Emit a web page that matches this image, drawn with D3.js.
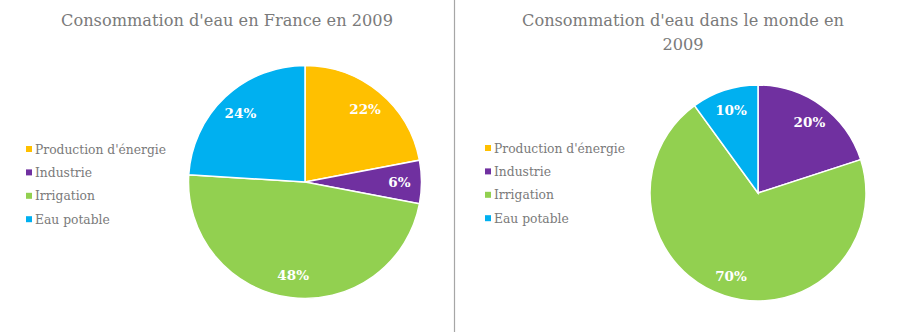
<!DOCTYPE html>
<html><head><meta charset="utf-8">
<script src="https://cdn.jsdelivr.net/npm/d3@7"></script>
<style>body{margin:0;background:#fff}svg{display:block}</style>
</head><body>
<svg id="c" width="906" height="332"></svg>
<script>
const categories = ["Production d'énergie", "Industrie", "Irrigation", "Eau potable"];
const colors = ["#FFC000", "#7030A0", "#92D050", "#00B0F0"];
const franceValues = [22, 6, 48, 24];
const mondeValues = [0, 20, 70, 10];
const titleFrance = ["Consommation d'eau en France en 2009"];
const titleMonde = ["Consommation d'eau dans le monde en", "2009"];

const svg = d3.select("#c");
const FONT = "'DejaVu Serif', serif";
const GRAY = "#7a7a7a";

svg.append("line").attr("x1", 454.5).attr("x2", 454.5).attr("y1", 0).attr("y2", 332)
  .attr("stroke", "#a6a6a6").attr("stroke-width", 1.2);

function panel(cfg) {
  const g = svg.append("g");
  const t = g.append("text").attr("text-anchor", "middle").attr("fill", GRAY)
    .style("font-family", FONT).style("font-size", "16.2px");
  cfg.title.forEach((s, i) => t.append("tspan").attr("x", cfg.titleX).attr("y", 26 + i * 23.5).text(s));

  const lg = g.append("g").attr("transform", `translate(${cfg.legX},${cfg.legY})`);
  categories.forEach((c, i) => {
    const row = lg.append("g").attr("transform", `translate(0,${i * 23.4})`);
    row.append("rect").attr("x", 0).attr("y", -3).attr("width", 6).attr("height", 6).attr("fill", colors[i]);
    row.append("text").attr("x", 9).attr("y", 4.5).attr("fill", GRAY)
      .style("font-family", FONT).style("font-size", "12.3px").text(c);
  });

  const pie = d3.pie().sort(null).value(d => d.v);
  const data = pie(cfg.values.map((v, i) => ({ v, i })));
  const arc = d3.arc().innerRadius(0).outerRadius(cfg.r);
  const lab = d3.arc().innerRadius(cfg.r * 0.81).outerRadius(cfg.r * 0.81);
  const pg = g.append("g").attr("transform", `translate(${cfg.cx},${cfg.cy})`);
  pg.selectAll("path").data(data.filter(d => d.data.v > 0)).join("path")
    .attr("d", arc).attr("fill", d => colors[d.data.i])
    .attr("stroke", "#fff").attr("stroke-width", 1.5);
  pg.selectAll("text").data(data.filter(d => d.data.v > 0)).join("text")
    .attr("transform", d => `translate(${lab.centroid(d)})`)
    .attr("text-anchor", "middle").attr("dy", "0.35em")
    .attr("fill", "#fff").style("font-family", FONT).style("font-weight", "bold")
    .style("font-size", "13.5px").text(d => d.data.v + "%");
}

panel({ title: titleFrance, titleX: 227, values: franceValues, cx: 305, cy: 182, r: 116.5, legX: 26, legY: 149 });
panel({ title: titleMonde, titleX: 683, values: mondeValues, cx: 758, cy: 193, r: 108, legX: 485, legY: 148 });
</script>
</body></html>
